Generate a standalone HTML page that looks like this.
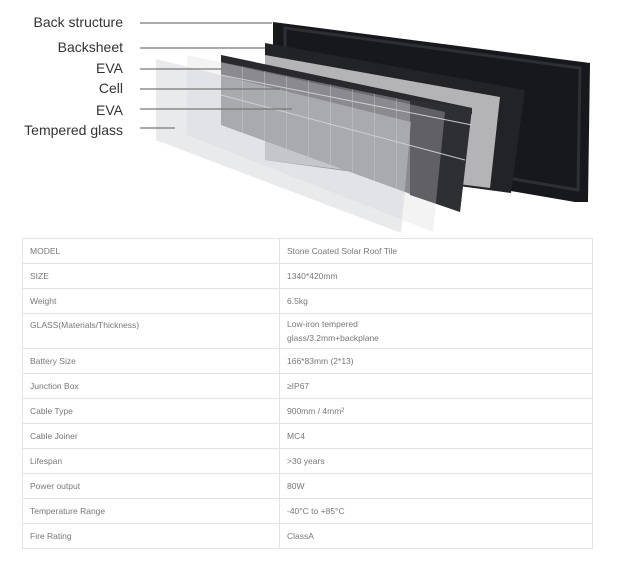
<!DOCTYPE html>
<html><head><meta charset="utf-8"><style>
body{margin:0;width:622px;height:565px;background:#fff;overflow:hidden;position:relative;font-family:"Liberation Sans",sans-serif}
svg{position:absolute;left:0;top:0}
.lab{position:absolute;right:499px;font-size:14px;color:#333;white-space:nowrap;line-height:16px}
table{position:absolute;left:22px;top:238px;width:571px;border-collapse:collapse;background:#fff;font-size:8.5px;color:#777}
td{border:1px solid #e3e3e3;padding:0 0 0 7px;height:25px;line-height:12px;vertical-align:middle;box-sizing:border-box}
td.r{height:35px;line-height:14px}
td:first-child{width:257px}
</style></head><body>
<svg width="622" height="240" viewBox="0 0 622 240">
<defs>
<pattern id="grid" width="22" height="200" patternUnits="userSpaceOnUse"><rect width="22" height="200" fill="#6a6a6f"/><line x1="0" y1="0" x2="0" y2="200" stroke="#b8b8bc" stroke-width="1"/></pattern>
</defs>
<polygon points="273,22 590,63 588,202 575,202 273,150" fill="#17181b"/>
<polygon points="285,28 580,68 578,190 285,140" fill="none" stroke="#2e2f33" stroke-width="3"/>
<polygon points="265,43 525,90 511,193 265,160" fill="#222326"/>
<polygon points="265,55 500,97 490,188 265,160" fill="#b4b4b6"/>
<polygon points="221,55 472,108 460,212 221,125" fill="url(#grid)"/>
<polygon points="221,55 472,108 472,114 221,62" fill="#2a2a2e"/>
<polygon points="410,100 472,108 460,212 410,195" fill="#2e2f33"/>
<line x1="221" y1="75" x2="472" y2="125" stroke="#c9c9cc" stroke-width="1"/>
<line x1="221" y1="95" x2="465" y2="160" stroke="#c9c9cc" stroke-width="1"/>
<polygon points="187,55 445,112 433,232 187,135" fill="#d8d8dc" fill-opacity="0.3"/>
<polygon points="156,59 411,122 401,233 156,140" fill="#cfd0d5" fill-opacity="0.45"/>
<g stroke="#777" stroke-width="1.2">
<line x1="140" y1="23" x2="272" y2="23"/>
<line x1="140" y1="48" x2="265" y2="48"/>
<line x1="140" y1="69" x2="222" y2="69"/>
<line x1="140" y1="89" x2="280" y2="89"/>
<line x1="140" y1="109" x2="292" y2="109"/>
<line x1="140" y1="128" x2="175" y2="128"/>
</g>
</svg>
<div class="lab" style="top:14px">Back structure</div>
<div class="lab" style="top:39px">Backsheet</div>
<div class="lab" style="top:60px">EVA</div>
<div class="lab" style="top:80px">Cell</div>
<div class="lab" style="top:102px">EVA</div>
<div class="lab" style="top:122px">Tempered glass</div>
<table>
<tr><td>MODEL</td><td>Stone Coated Solar Roof Tile</td></tr>
<tr><td>SIZE</td><td>1340*420mm</td></tr>
<tr><td>Weight</td><td>6.5kg</td></tr>
<tr><td class="r" style="vertical-align:top;padding-top:4px">GLASS(Materials/Thickness)</td><td class="r">Low-iron tempered<br>glass/3.2mm+backplane</td></tr>
<tr><td>Battery Size</td><td>166*83mm (2*13)</td></tr>
<tr><td>Junction Box</td><td>≥IP67</td></tr>
<tr><td>Cable Type</td><td>900mm / 4mm²</td></tr>
<tr><td>Cable Joiner</td><td>MC4</td></tr>
<tr><td>Lifespan</td><td>&gt;30 years</td></tr>
<tr><td>Power output</td><td>80W</td></tr>
<tr><td>Temperature Range</td><td>-40°C to +85°C</td></tr>
<tr><td>Fire Rating</td><td>ClassA</td></tr>
</table>
</body></html>
